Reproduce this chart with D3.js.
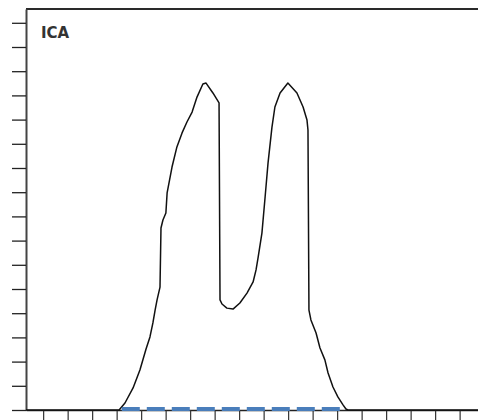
<!DOCTYPE html>
<html>
<head>
<meta charset="utf-8">
<script src="https://cdn.jsdelivr.net/npm/d3@7"></script>
<style>
  body { margin: 0; background: #fff; }
  svg { display: block; }
</style>
</head>
<body>
<div class="chart"></div>
<script>
// curve (x units, y units)
const curveX = [0.3, 4.10, 4.34, 4.67, 4.95, 5.20, 5.36, 5.48, 5.57, 5.65, 5.77, 5.81, 5.89, 6.01, 6.06,
  6.26, 6.46, 6.67, 6.87, 7.08, 7.28, 7.52, 7.65, 7.93, 8.18, 8.22, 8.30, 8.50, 8.75, 9.03,
  9.32, 9.57, 9.69, 9.77, 9.93, 10.06, 10.18, 10.34, 10.46, 10.67, 10.99, 11.36, 11.61, 11.77, 11.81,
  11.85, 11.93, 12.14, 12.30, 12.50, 12.63, 12.83, 13.03, 13.24, 13.36, 13.44, 18.75];
const curveY = [0, 0, 0.29, 0.91, 1.65, 2.52, 3.02, 3.60, 4.13, 4.55, 5.08, 7.52, 7.85, 8.14, 8.97,
  10.04, 10.87, 11.45, 11.90, 12.31, 12.93, 13.47, 13.51, 13.10, 12.69, 4.55, 4.38, 4.21, 4.17, 4.42,
  4.83, 5.29, 5.79, 6.28, 7.31, 8.80, 10.21, 11.69, 12.52, 13.10, 13.51, 13.10, 12.52, 11.98, 11.57,
  4.13, 3.72, 3.18, 2.56, 2.07, 1.53, 0.95, 0.54, 0.21, 0.04, 0, 0];

// blue dashed series
const baseX = [4.21, 13.2];
const baseY = [0, 0];

const label = "ICA";

const xTicks = d3.range(1, 19);
const yTicks = d3.range(0, 17);

const width = 478;
const height = 420;
const margins = {top: 9, bottom: 10, left: 26, right: 0};

const svg = d3.select(".chart").append("svg")
  .attr("width", width)
  .attr("height", height);

const xScale = d3.scaleLinear()
  .domain([0.3, 18.75])
  .range([margins.left, width - margins.right]);

const yScale = d3.scaleLinear()
  .domain([0, 16.57])
  .range([height - margins.bottom, margins.top]);

// top border
svg.append("line")
  .attr("x1", margins.left).attr("x2", width)
  .attr("y1", margins.top).attr("y2", margins.top)
  .attr("stroke", "#2a2a2a")
  .attr("stroke-width", 2);

const xAxis = d3.axisBottom(xScale)
  .tickValues(xTicks)
  .tickSize(12)
  .tickSizeOuter(0)
  .tickFormat("");
const yAxis = d3.axisLeft(yScale)
  .tickValues(yTicks)
  .tickSize(14)
  .tickSizeOuter(0)
  .tickFormat("");

const gx = svg.append("g")
  .attr("transform", `translate(0, ${height - margins.bottom})`)
  .call(xAxis);
gx.select(".domain").attr("stroke", "#222").attr("stroke-width", 1.5);
gx.selectAll(".tick line").attr("stroke", "#333").attr("stroke-width", 1.2);

const gy = svg.append("g")
  .attr("transform", `translate(${margins.left}, 0)`)
  .call(yAxis);
gy.select(".domain").attr("stroke", "#444").attr("stroke-width", 2);
gy.selectAll(".tick line").attr("stroke", "#222").attr("stroke-width", 1.3);

const line = d3.line()
  .x(d => xScale(d[0]))
  .y(d => yScale(d[1]));

svg.append("path")
  .attr("fill", "none")
  .attr("stroke", "#111")
  .attr("stroke-width", 1.5)
  .attr("stroke-linejoin", "round")
  .attr("d", line(d3.zip(curveX, curveY)));

svg.append("path")
  .attr("fill", "none")
  .attr("stroke", "#4a7ebb")
  .attr("stroke-width", 4)
  .attr("stroke-dasharray", "18,7")
  .attr("transform", "translate(0,-1)")
  .attr("d", line(d3.zip(baseX, baseY)));

svg.append("text")
  .attr("x", 41)
  .attr("y", 38)
  .attr("font-family", "DejaVu Sans, sans-serif")
  .attr("font-weight", "bold")
  .attr("font-size", 15)
  .attr("fill", "#333")
  .text(label);
</script>
</body>
</html>
